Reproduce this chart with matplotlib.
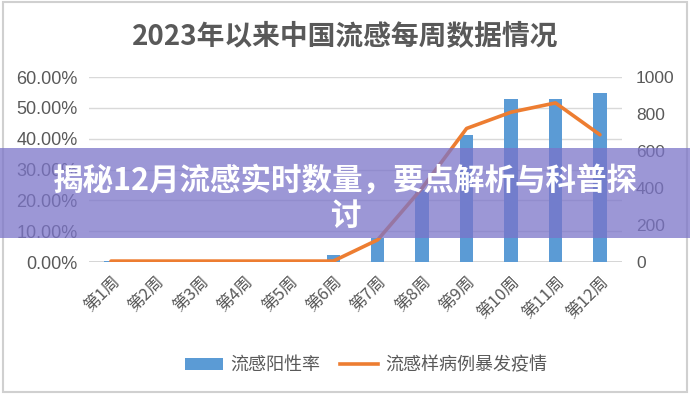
import matplotlib
matplotlib.use("Agg")
import matplotlib.pyplot as plt
from matplotlib.patches import Rectangle, Patch
from matplotlib.lines import Line2D
from matplotlib.ticker import FuncFormatter

plt.rcParams["font.family"] = ["Noto Sans CJK SC", "DejaVu Sans"]

weeks = ["第1周", "第2周", "第3周", "第4周", "第5周", "第6周",
         "第7周", "第8周", "第9周", "第10周", "第11周", "第12周"]
positive_rate = [0.2, 0.0, 0.0, 0.0, 0.0, 2.3, 7.8, 23.4, 41.2, 52.9, 52.9, 54.9]
outbreaks = [5, 5, 5, 5, 5, 5, 120, 400, 722, 810, 860, 688]

TITLE = "2023年以来中国流感每周数据情况"
BANNER = "揭秘12月流感实时数量，要点解析与科普探\n讨"
BAR_LABEL = "流感阳性率"
LINE_LABEL = "流感样病例暴发疫情"

BLUE = "#5B9BD5"
ORANGE = "#ED7D31"
GREY = "#595959"

fig = plt.figure(figsize=(6.9, 3.94), dpi=100)
ax = fig.add_axes([0.1287, 0.335, 0.773, 0.4695])
ax2 = ax.twinx()

x = list(range(len(weeks)))
ax.bar(x, positive_rate, width=0.3, color=BLUE, zorder=3)
ax2.plot(x, outbreaks, color=ORANGE, linewidth=2.6, solid_capstyle="round", zorder=4)

ax.set_xlim(-0.5, len(weeks) - 0.5)
ax.set_ylim(0, 60)
ax.set_yticks(range(0, 61, 10))
ax.yaxis.set_major_formatter(FuncFormatter(lambda v, _: f"{v:.2f}%"))
ax2.set_ylim(0, 1000)
ax2.set_yticks(range(0, 1001, 200))

ax.grid(axis="y", color="#d9d9d9", linewidth=1, zorder=0)
ax.set_axisbelow(True)
for a in (ax, ax2):
    for side in ("top", "left", "right", "bottom"):
        a.spines[side].set_visible(False)
ax.axhline(0, color="#d0d0d0", linewidth=1.2, zorder=2)

ax.set_xticks(x)
ax.set_xticklabels(weeks, rotation=45, ha="right", rotation_mode="anchor")
ax.tick_params(axis="x", length=0, pad=8, labelsize=12, labelcolor=GREY)
ax.tick_params(axis="y", length=0, pad=8, labelsize=13, labelcolor=GREY)
ax2.tick_params(axis="y", length=0, pad=10, labelsize=12.5, labelcolor=GREY)
for lbl in ax.get_yticklabels() + ax2.get_yticklabels():
    lbl.set_family(["Liberation Sans", "DejaVu Sans"])

fig.text(0.5, 0.905, TITLE, ha="center", va="center", fontsize=20,
         fontweight="bold", color=GREY)

handles = [Patch(facecolor=BLUE), Line2D([0], [0], color=ORANGE, linewidth=2.6)]
fig.legend(handles, [BAR_LABEL, LINE_LABEL], loc="center", ncol=2,
           bbox_to_anchor=(0.53, 0.073), frameon=False, fontsize=13,
           labelcolor=GREY, handlelength=2.1, columnspacing=1.1, handletextpad=0.4)

# outer frame
fig.add_artist(Rectangle((0.004, 0.004), 0.992, 0.99, transform=fig.transFigure,
                         fill=False, edgecolor="#d0d0d0", linewidth=1.5))

# overlay banner
fig.add_artist(Rectangle((0, 0.396), 1, 0.228, transform=fig.transFigure,
                         facecolor="#7b74c9", alpha=0.75, edgecolor="none", zorder=10))
fig.text(0.5, 0.497, BANNER, ha="center", va="center", fontsize=22,
         fontweight="bold", color="white", linespacing=1.1, zorder=11)

fig.savefig("out.png", dpi=100)
